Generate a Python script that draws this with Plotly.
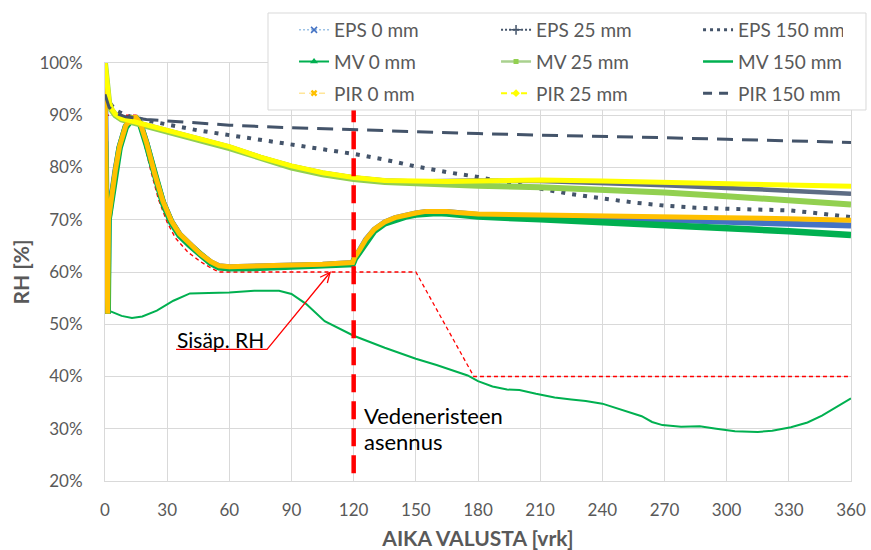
import plotly.graph_objects as go

# ---------------- data ----------------
x_ticks = [0, 30, 60, 90, 120, 150, 180, 210, 240, 270, 300, 330, 360]
y_ticks = [20, 30, 40, 50, 60, 70, 80, 90, 100]
y_tick_labels = ["20%", "30%", "40%", "50%", "60%", "70%", "80%", "90%", "100%"]

# 0 mm series
days_0mm = [0, 0.7, 1.3, 1.7, 3, 5, 7, 10, 13, 15, 17, 20, 24, 28, 32, 36, 41, 46, 51, 55,
            60, 75, 90, 105, 119.5, 120.5, 123, 126, 130, 135, 140, 145, 150, 155, 160, 165,
            170, 180, 210, 240, 270, 300, 330, 360]
eps_0 = [97, 52, 52, 70, 74, 79.4, 83.9, 87.9, 89.4, 89.5, 88.4, 84.7, 78.7, 73.4, 69.7, 67.2,
         65.3, 63.4, 61.9, 61.1, 60.9, 61.0, 61.2, 61.4, 61.7, 62.7, 64.2, 66.2, 68.1, 69.5,
         70.3, 70.8, 71.2, 71.5, 71.6, 71.5, 71.3, 70.9, 70.6, 70.4, 70.0, 69.6, 69.3, 68.9]
mv_0 = [85, 52, 52, 70, 73.8, 79.2, 83.7, 87.7, 89.3, 89.4, 88.3, 84.5, 78.5, 73.2, 69.5, 67.0,
        65.1, 63.2, 61.7, 60.9, 60.7, 60.8, 61.0, 61.2, 61.5, 62.5, 64.0, 66.0, 67.9, 69.3,
        70.1, 70.6, 71.0, 71.2, 71.3, 71.2, 71.0, 70.6, 70.1, 69.6, 69.0, 68.4, 67.8, 67.1]
pir_0 = [97, 52, 52, 70, 74, 79.5, 84, 88, 89.5, 89.6, 88.5, 84.8, 78.8, 73.5, 69.8, 67.3,
         65.4, 63.5, 62.0, 61.2, 61.0, 61.1, 61.3, 61.5, 61.8, 62.8, 64.3, 66.3, 68.2, 69.6,
         70.4, 70.9, 71.3, 71.6, 71.7, 71.6, 71.4, 71.1, 70.9, 70.8, 70.6, 70.4, 70.2, 69.9]

# 25 mm series
days_25mm = [0, 1, 2, 3, 5, 8, 12, 16, 20, 30, 45, 60, 75, 90, 105, 120, 135, 150, 165, 180,
             210, 240, 270, 300, 330, 360]
eps_25 = [100, 95, 92.5, 91.3, 90.2, 89.4, 89, 88.6, 88.2, 87.2, 85.6, 84, 82, 80.3, 79, 78.1,
          77.5, 77.3, 77.4, 77.5, 77.4, 77.1, 76.6, 76.1, 75.5, 75.0]
mv_25 = [100, 94.8, 92.3, 91.1, 90, 89.2, 88.8, 88.4, 88, 87, 85.3, 83.7, 81.7, 80, 78.7, 77.8,
         77.2, 76.9, 76.7, 76.5, 76.2, 75.8, 75.2, 74.5, 73.7, 72.9]
pir_25 = [100, 95, 92.5, 91.3, 90.2, 89.4, 89, 88.6, 88.2, 87.2, 85.6, 84, 82, 80.3, 79, 78.1,
          77.5, 77.3, 77.3, 77.4, 77.6, 77.4, 77.2, 77.0, 76.8, 76.4]

# 150 mm series
days_eps150 = [0, 2, 5, 10, 20, 30, 45, 60, 75, 90, 105, 120, 135, 150, 165, 180, 195, 210,
               225, 240, 255, 270, 285, 300, 315, 330, 345, 360]
eps_150 = [94, 92.5, 91, 90, 89, 88.2, 87.1, 86.2, 85.3, 84.3, 83.4, 82.6, 81.5, 80.2, 79.1,
           78.2, 77, 76, 74.9, 74.1, 73.3, 72.7, 72.3, 72.1, 72.0, 71.8, 71.2, 70.5]
days_mv150 = [0, 3, 8, 13, 18, 25, 33, 41, 50, 60, 72, 84, 90, 97, 106, 113, 120, 135, 150,
              160, 169, 175, 180, 187, 194, 200, 208, 217, 225, 232, 240, 250, 259, 264, 269,
              278, 287, 295, 304, 315, 322, 331, 339, 346, 353, 360]
mv_150 = [53, 52.4, 51.6, 51.2, 51.5, 52.6, 54.5, 55.9, 56.0, 56.1, 56.4, 56.4, 55.8, 53.9,
          50.6, 49.2, 47.8, 45.5, 43.4, 42.2, 41.0, 40.2, 39.1, 38.1, 37.5, 37.4, 36.7, 36.0,
          35.6, 35.3, 34.8, 33.6, 32.4, 31.3, 30.7, 30.4, 30.5, 30.0, 29.5, 29.4, 29.6, 30.3,
          31.2, 32.5, 34.1, 35.8]
days_pir150 = [0, 2, 5, 10, 20, 40, 60, 90, 120, 150, 180, 210, 240, 270, 300, 330, 360]
pir_150 = [94, 91.5, 90.4, 89.7, 89.2, 88.6, 88.1, 87.6, 87.2, 86.8, 86.5, 86.2, 86.0, 85.7,
           85.4, 85.1, 84.8]

# indoor RH ("Sisäp. RH")
days_indoor = [0, 15, 17, 19.3, 22, 25.7, 30, 34, 40, 46, 51, 55, 150, 178, 360]
rh_indoor = [90, 90, 88.5, 84, 79.5, 74, 69.5, 66.5, 63.8, 62, 60.8, 60, 60, 40, 40]

# waterproofing installation marker
install_days = [120, 120]
install_rh = [21.5, 91]

# ---------------- styles ----------------
FONT = "Lato, Calibri, Arial, sans-serif"
GRAY = "#595959"
GRID = "#d9d9d9"
NAVY = "#44546A"
GREEN = "#00B050"
LGREEN = "#92D050"
ORANGE = "#FFC000"
YELLOW = "#FFFF00"
BLUE = "#4472C4"

fig = go.Figure()

# indoor RH (bottom)
fig.add_trace(go.Scatter(x=days_indoor, y=rh_indoor, mode="lines", showlegend=False,
                         line=dict(color="#FF0000", width=1.3, dash="4px,3px"), hoverinfo="skip"))

data_series = [
    (days_0mm, eps_0, dict(color=BLUE, width=6)),
    (days_25mm, eps_25, dict(color="#5d6c84", width=4.5)),
    (days_eps150, eps_150, dict(color=NAVY, width=4, dash="4px,7px")),
    (days_0mm, mv_0, dict(color=GREEN, width=6.5)),
    (days_25mm, mv_25, dict(color=LGREEN, width=6)),
    (days_mv150, mv_150, dict(color=GREEN, width=2)),
    (days_0mm, pir_0, dict(color=ORANGE, width=5)),
    (days_25mm, pir_25, dict(color=YELLOW, width=5)),
    (days_pir150, pir_150, dict(color=NAVY, width=3, dash="16px,9px")),
]
for xs, ys, ln in data_series:
    fig.add_trace(go.Scatter(x=xs, y=ys, mode="lines", line=ln, showlegend=False))

# installation line on top
fig.add_trace(go.Scatter(x=install_days, y=install_rh, mode="lines", showlegend=False,
                         line=dict(color="#FF0000", width=4.5, dash="18px,9px")))

# legend entries (styles as shown in the legend)
legend_entries = [
    ("EPS 0 mm", "legend", dict(color="#9DC3E6", width=1.5, dash="2px,2px"),
     dict(symbol="x-thin", size=6, line=dict(color=BLUE, width=1.5), color=BLUE), 157),
    ("EPS 25 mm", "legend", dict(color=NAVY, width=2, dash="2px,2px"),
     dict(symbol="cross-thin", size=7, line=dict(color=NAVY, width=1.5), color=NAVY), 157),
    ("EPS 150 mm", "legend", dict(color=NAVY, width=3, dash="3px,4px"), None, 100),
    ("MV 0 mm", "legend2", dict(color=GREEN, width=2), dict(symbol="triangle-up", size=7, color=GREEN), 157),
    ("MV 25 mm", "legend2", dict(color="#A9D18E", width=2.5),
     dict(symbol="square", size=5, color=LGREEN), 157),
    ("MV 150 mm", "legend2", dict(color=GREEN, width=2.5), None, 100),
    ("PIR 0 mm", "legend3", dict(color="#FFE699", width=1.5, dash="6px,4px"),
     dict(symbol="x", size=6, color=ORANGE), 157),
    ("PIR 25 mm", "legend3", dict(color=YELLOW, width=2, dash="6px,4px"),
     dict(symbol="diamond", size=6, color=YELLOW), 157),
    ("PIR 150 mm", "legend3", dict(color=NAVY, width=3, dash="9px,7px"), None, 100),
]
for name, lg, ln, mk, lw in legend_entries:
    kw = dict(x=[None], y=[None], name=name, legend=lg, line=ln, legendwidth=lw,
              mode="lines+markers" if mk else "lines")
    if mk:
        kw["marker"] = mk
    fig.add_trace(go.Scatter(**kw))

legend_common = dict(orientation="h", xanchor="left", yanchor="middle", x=0.2534,
                     bgcolor="rgba(0,0,0,0)", borderwidth=0, itemwidth=30,
                     font=dict(family=FONT, size=19, color=GRAY), traceorder="normal",
                     itemclick=False, itemdoubleclick=False)

fig.update_layout(
    width=871, height=550,
    margin=dict(l=105, r=20, t=63, b=69, autoexpand=False),
    paper_bgcolor="white", plot_bgcolor="white",
    font=dict(family=FONT, color=GRAY),
    legend=dict(legend_common, y=1.0789),
    legend2=dict(legend_common, y=1.0031),
    legend3=dict(legend_common, y=0.9275),
    xaxis=dict(range=[0, 360], tickvals=x_ticks, showgrid=True, gridcolor=GRID, gridwidth=1,
               zeroline=False, showline=True, linecolor=GRID, mirror=True, automargin=False,
               tickfont=dict(family=FONT, size=17, color=GRAY), ticks="",
               ticklabelstandoff=14,
               title=dict(text="AIKA VALUSTA [vrk]", standoff=13,
                          font=dict(family=FONT, size=21, color=GRAY, weight="bold"))),
    yaxis=dict(range=[20, 100], tickvals=y_ticks, ticktext=y_tick_labels, showgrid=True,
               gridcolor=GRID, gridwidth=1, zeroline=False, showline=True, linecolor=GRID,
               mirror=True, automargin=False, tickfont=dict(family=FONT, size=17, color=GRAY),
               ticks="", ticklabelstandoff=18,
               title=dict(text="RH [%]", standoff=4,
                          font=dict(family=FONT, size=21, color=GRAY, weight="bold"))),
    shapes=[
        # legend box
        dict(type="rect", xref="paper", yref="paper", x0=0.2185, x1=1.0201, y0=0.8876, y1=1.1196,
             fillcolor="white", line=dict(color=GRID, width=1), layer="above"),
        # "Sisäp. RH" leader line with open arrow head
        dict(type="path", xref="x", yref="y",
             path="M 34.3,45.2 L 78.2,45.2 L 108.6,59.9", line=dict(color="#FF0000", width=1.3)),
        dict(type="path", xref="x", yref="y",
             path="M 103.8,59.0 L 108.6,59.9 L 107.3,57.9", line=dict(color="#FF0000", width=1.3)),
    ],
    annotations=[
        dict(text="Sisäp. RH", x=55.5, y=47.0, xref="x", yref="y", showarrow=False,
             font=dict(family=FONT, size=21, color="black")),
        dict(text="Vedeneristeen", x=124, y=32.6, xref="x", yref="y", showarrow=False,
             xanchor="left", font=dict(family=FONT, size=22, color="black")),
        dict(text="asennus", x=124, y=27.5, xref="x", yref="y", showarrow=False,
             xanchor="left", font=dict(family=FONT, size=22, color="black")),
    ],
)

fig.write_html("out.html")
